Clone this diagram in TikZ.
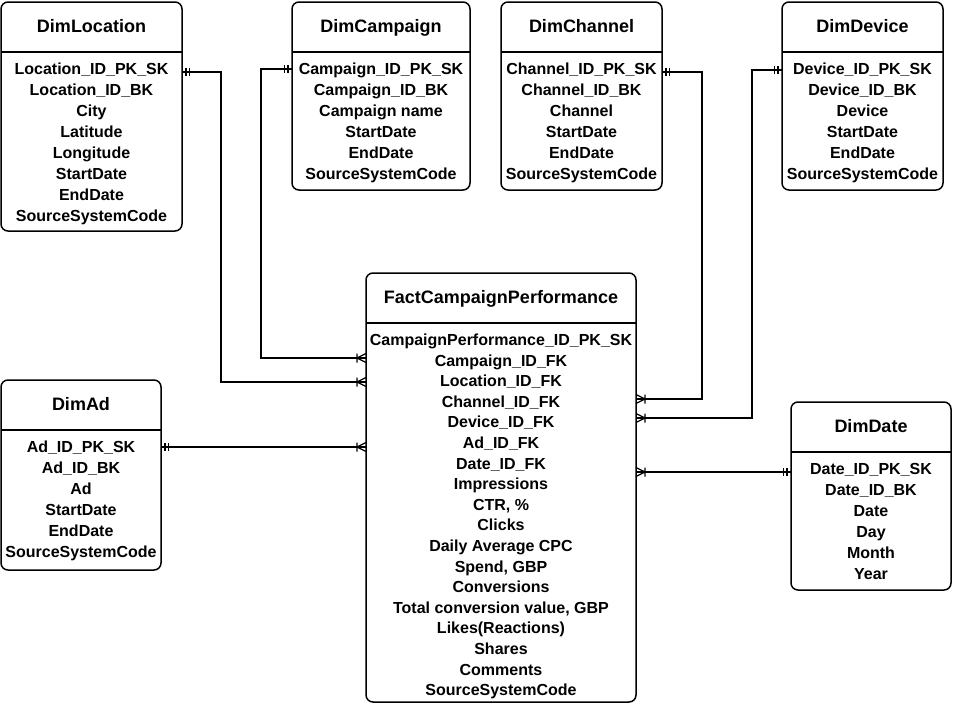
\documentclass[tikz,border=0pt]{standalone}
\usepackage{fontspec}
\setmainfont{Liberation Sans}
\usetikzlibrary{decorations.markings}

% one ER table: name, x, y, width, height, title, rows, row pitch
\newcommand{\ertable}[8]{%
  \node[tbox, minimum width=#4pt, minimum height=#5pt] (#1) at (#2,#3) {};
  \draw[tline] ([yshift=-50pt]#1.north west) -- ([yshift=-50pt]#1.north east);
  \node[hdr] (#1-t) at ([yshift=-30pt]#1.north) {#6};
  \foreach [count=\i from 0] \r in {#7}
    \node[row] (#1-\i) at ([yshift={-(72.5+#8*\i)*1pt}]#1.north) {\r};
}

\begin{document}
\begin{tikzpicture}[x=1pt,y=-1pt,
  tbox/.style={draw, line width=1.5pt, rounded corners=7pt, fill=white,
    inner sep=0pt, outer sep=0pt, anchor=north west},
  tline/.style={line width=1.5pt},
  hdr/.style={anchor=base, inner sep=0pt, font=\fontsize{18}{21}\selectfont\bfseries},
  row/.style={anchor=base, inner sep=0pt, font=\fontsize{16}{21}\selectfont\bfseries},
  rel/.style={line width=1.5pt, postaction={decorate, decoration={markings,
    mark=at position 0 with {\draw[line width=1.2pt] (4,-4) -- (4,4) (7.5,-4) -- (7.5,4);},
    mark=at position 1 with {\draw[line width=1.2pt] (-9,-4.5) -- (-9,4.5) (-9,0) -- (0,-4.5) (-9,0) -- (0,4.5);}}}}
]
\useasboundingbox (0,0) rectangle (953,704);
\fill[white] (0,0) rectangle (953,704);

\ertable{loc}{1}{2}{181}{229}{DimLocation}
  {Location\_ID\_PK\_SK, Location\_ID\_BK, City, Latitude, Longitude, StartDate, EndDate, SourceSystemCode}{21}
\ertable{camp}{292}{2}{178}{188}{DimCampaign}
  {Campaign\_ID\_PK\_SK, Campaign\_ID\_BK, Campaign name, StartDate, EndDate, SourceSystemCode}{21}
\ertable{chan}{501}{2}{161}{188}{DimChannel}
  {Channel\_ID\_PK\_SK, Channel\_ID\_BK, Channel, StartDate, EndDate, SourceSystemCode}{21}
\ertable{dev}{782}{2}{161}{188}{DimDevice}
  {Device\_ID\_PK\_SK, Device\_ID\_BK, Device, StartDate, EndDate, SourceSystemCode}{21}
\ertable{fact}{366}{273}{270}{429}{FactCampaignPerformance}
  {CampaignPerformance\_ID\_PK\_SK, Campaign\_ID\_FK, Location\_ID\_FK, Channel\_ID\_FK,
   Device\_ID\_FK, Ad\_ID\_FK, Date\_ID\_FK, Impressions, {CTR, \%}, Clicks,
   Daily Average CPC, {Spend, GBP}, Conversions, {Total conversion value, GBP},
   Likes(Reactions), Shares, Comments, SourceSystemCode}{20.6}
\ertable{ad}{1}{380}{160}{190}{DimAd}
  {Ad\_ID\_PK\_SK, Ad\_ID\_BK, Ad, StartDate, EndDate, SourceSystemCode}{21}
\ertable{date}{791}{402}{160}{188}{DimDate}
  {Date\_ID\_PK\_SK, Date\_ID\_BK, Date, Day, Month, Year}{21}

% relationships: one (dimension) to many (fact)
\draw[rel] ([yshift=-70pt]loc.north east) -- ++(39,0) |- ([yshift=-109pt]fact.north west);
\draw[rel] ([yshift=-67pt]camp.north west) -- ++(-31,0) |- ([yshift=-85pt]fact.north west);
\draw[rel] ([yshift=-70pt]chan.north east) -- ++(40,0) |- ([yshift=-126pt]fact.north east);
\draw[rel] ([yshift=-68pt]dev.north west) -- ++(-30,0) |- ([yshift=-145pt]fact.north east);
\draw[rel] ([yshift=-67pt]ad.north east) -- ([yshift=-174pt]fact.north west);
\draw[rel] ([yshift=-70pt]date.north west) -- ([yshift=-199pt]fact.north east);
\end{tikzpicture}
\end{document}
